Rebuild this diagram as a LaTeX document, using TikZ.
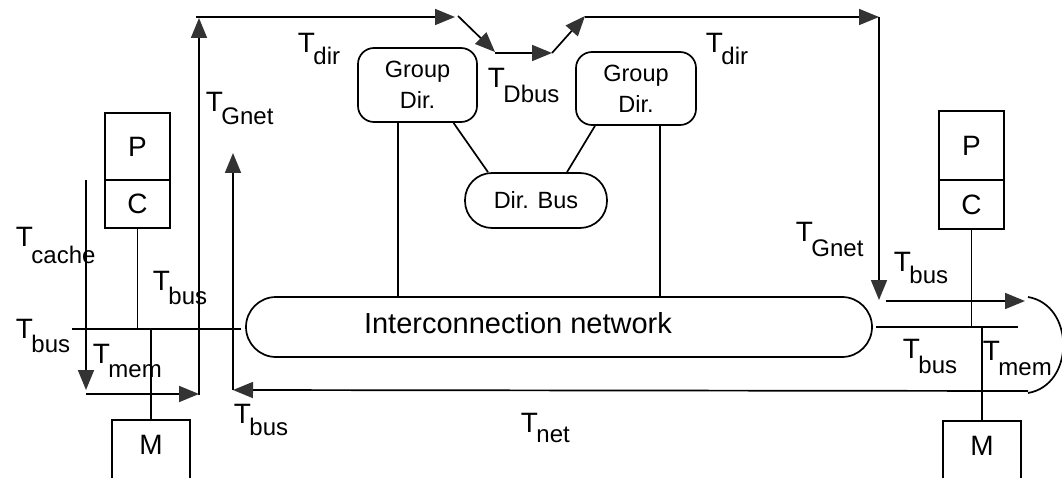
\documentclass[tikz,border=0pt]{standalone}
\usepackage{fontspec}
\setmainfont{Liberation Sans}
\usetikzlibrary{arrows.meta}
\newcommand\Tfont{\fontsize{28}{30}\selectfont}
\newcommand\Nfont{\fontsize{29}{30}\selectfont}
\newcommand\Sfont{\fontsize{24}{26}\selectfont}
\newcommand\Gfont{\fontsize{23.5}{31}\selectfont}
\newcommand\Tsub[2][14pt]{T\kern-1.5pt\raisebox{-#1}{\Sfont #2}}
\tikzset{
  box/.style={draw, rectangle, minimum width=65pt, inner sep=0pt, font=\Tfont},
  rbox/.style={draw, rounded corners=16pt, inner sep=0pt, align=center, font=\Gfont},
  lbl/.style={inner sep=0pt, anchor=base west, font=\Tfont},
  arr/.style={-{Triangle[length=20pt,width=16pt,color=black!80]}},
}
\begin{document}
\begin{tikzpicture}[x=1pt, y=-1pt, line width=1.7pt]
\useasboundingbox (0,0) rectangle (1062,478);
\clip (0,0) rectangle (1062,478);
\fill[white] (0,0) rectangle (1062,478);

% processors, caches, memories
\node[box, minimum height=67pt] (PL) at (137.5,146.5) {P};
\node[box, minimum height=48pt] (CL) at (137.5,204) {C};
\node[box, minimum width=78pt, minimum height=66pt, text depth=16pt, anchor=north] (ML) at (151,419) {M};
\node[box, minimum height=69pt] (PR) at (971.5,145.5) {P};
\node[box, minimum height=49pt] (CR) at (971.5,204.5) {C};
\node[box, minimum width=78pt, minimum height=66pt, text depth=16pt, anchor=north] (MR) at (982,420) {M};

% directories
\node[rbox, minimum width=119pt, minimum height=74pt] (GD1) at (417.5,85) {Group\\Dir.};
\node[rbox, minimum width=120pt, minimum height=73pt] (GD2) at (636,88.5) {Group\\Dir.};
\node[rbox, rounded corners=27pt, minimum width=142pt, minimum height=55pt] (DB) at (536,200.5) {Dir. Bus};

% network
\node[draw, rounded corners=30pt, minimum width=626pt, minimum height=60pt, inner sep=0pt,
      label={[xshift=-41pt, yshift=4pt, font=\Nfont]center:Interconnection network}] (NET) at (559,327) {};

% buses
\coordinate (bl1) at (72,329);
\coordinate (bl2) at (241,329);
\coordinate (br1) at (876,327);
\coordinate (br2) at (1018,327);
\draw (bl1) -- (bl2);
\draw (br1) -- (br2);
\draw (CL.south) -- (CL.south |- bl1);
\draw (ML.north) -- (ML.north |- bl1);
\draw (CR.south) -- (CR.south |- br1);
\draw (MR.north) -- (MR.north |- br1);

% directory links
\draw ([xshift=36pt]GD1.south) -- ([xshift=-48pt]DB.north);
\draw ([xshift=-41pt]GD2.south) -- ([xshift=31pt]DB.north);
\draw ([xshift=-19.5pt]GD1.south) -- ([xshift=-19.5pt]GD1.south |- NET.north);
\draw ([xshift=24pt]GD2.south) -- ([xshift=24pt]GD2.south |- NET.north);

% timing path coordinates
\coordinate (c1) at (86,180);
\coordinate (c2) at (86,390);
\coordinate (c3) at (86,394);
\coordinate (c4) at (199,394);
\coordinate (g1) at (199,395);
\coordinate (g2) at (199,18);
\coordinate (t1) at (196,17);
\coordinate (t2) at (455,17);
\coordinate (t3) at (458,16);
\coordinate (t4) at (495,52);
\coordinate (t5) at (495,53);
\coordinate (t6) at (552,53);
\coordinate (t7) at (585,16);
\coordinate (t8) at (585,17);
\coordinate (t9) at (879,17);
\coordinate (t10) at (879,300);
\coordinate (t11) at (886,301);
\coordinate (t12) at (1025,301);
\coordinate (a1) at (1028,297);
\coordinate (a2) at (1028,393);
\coordinate (n1) at (1028,391);
\coordinate (n2) at (233,390);
\coordinate (u1) at (233,390);
\coordinate (u2) at (233,153);

\draw[arr] (c1) -- (c2);
\draw[arr] (c3) -- (c4);
\draw[arr] (g1) -- (g2);
\draw[arr] (t1) -- (t2);
\draw[arr] (t3) -- (t4);
\draw[arr] (t5) -- (t6);
\draw[arr] (t6) -- (t7);
\draw[arr] (t8) -- (t9);
\draw[arr] (t9) -- (t10);
\draw[arr] (t11) -- (t12);
\draw (a1) .. controls (1075,305) and (1075,385) .. (a2);
\draw[arr] (n1) -- (n2);
\draw[arr] (u1) -- (u2);

% labels
\node[lbl] (l1) at (297,53) {\Tsub[12pt]{dir}};
\node[lbl] (l2) at (205,112) {\Tsub[13pt]{Gnet}};
\node[lbl] (l3) at (487,88) {\Tsub[15pt]{Dbus}};
\node[lbl] (l4) at (705,53) {\Tsub[12pt]{dir}};
\node[lbl] (l5) at (15,247) {\Tsub[17pt]{cache}};
\node[lbl] (l6) at (152,290) {\Tsub[14pt]{bus}};
\node[lbl] (l7) at (15,338) {\Tsub[14pt]{bus}};
\node[lbl] (l8) at (92,363) {\Tsub[14pt]{mem}};
\node[lbl] (l9) at (233,423) {\Tsub[12pt]{bus}};
\node[lbl] (l10) at (520,432) {\Tsub[10pt]{net}};
\node[lbl] (l11) at (795,242) {\Tsub[15pt]{Gnet}};
\node[lbl] (l12) at (893,271) {\Tsub[13pt]{bus}};
\node[lbl] (l13) at (902,358) {\Tsub[15pt]{bus}};
\node[lbl] (l14) at (982,360) {\Tsub[15pt]{mem}};
\end{tikzpicture}
\end{document}
